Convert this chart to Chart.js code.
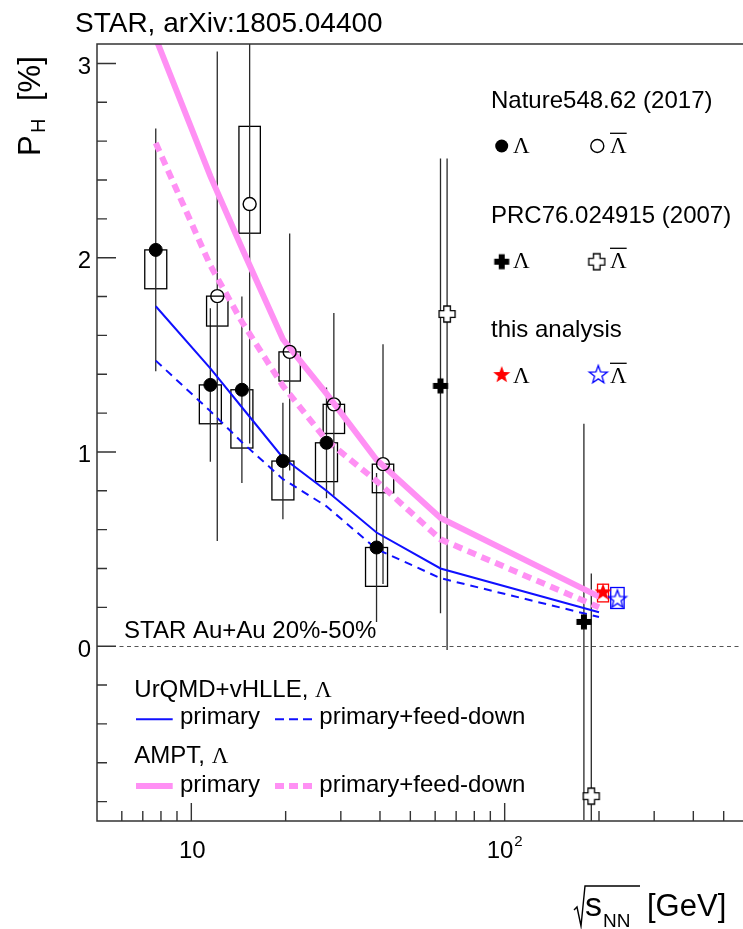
<!DOCTYPE html>
<html><head><meta charset="utf-8">
<script src="https://cdn.jsdelivr.net/npm/chart.js@4.4.0/dist/chart.umd.min.js"></script>
<style>html,body{margin:0;padding:0;background:#fff;}#wrap{width:743px;height:929px;}</style>
</head><body><div id="wrap"><canvas id="c" width="743" height="929"></canvas></div>
<script>
// ---------- data ----------
const modelEnergies = [7.7, 11.5, 14.5, 19.6, 27, 39, 62.4, 200];
const urqmdPrimary  = [1.75, 1.43, 1.23, 0.97, 0.80, 0.585, 0.40, 0.175];
const urqmdFeed     = [1.47, 1.21, 1.05, 0.86, 0.72, 0.50, 0.35, 0.15];
const amptPrimary   = [3.13, 2.42, 2.05, 1.58, 1.30, 0.96, 0.66, 0.255];
const amptFeed      = [2.59, 1.96, 1.67, 1.34, 1.06, 0.85, 0.55, 0.20];

const natLamE     = [7.7, 11.5, 14.5, 19.6, 27, 39];
const natLamP     = [2.04, 1.345, 1.32, 0.953, 1.047, 0.508];
const natLamStat  = [0.625, 0.395, 0.48, 0.30, 0.285, 0.383];
const natLamSysUp = [0, 0, 0, 0, 0, 0];
const natLamSysDn = [0.20, 0.20, 0.30, 0.20, 0.20, 0.20];

const natALamE     = [12.1, 15.35, 20.6, 28.5, 40.9];
const natALamP     = [1.802, 2.276, 1.515, 1.245, 0.937];
const natALamStat  = [1.26, 1.232, 0.61, 0.47, 0.617];
const natALamSysUp = [0, 0.40, 0, 0, 0];
const natALamSysDn = [0.154, 0.15, 0.15, 0.15, 0.147];

const prcLamE    = [62.4, 179];
const prcLamP    = [1.34, 0.125];
const prcLamStat = [1.17, 1.02];
const prcALamE      = [65.5, 189];
const prcALamP      = [1.71, -0.772];
const prcALamStatUp = [0.80, 1.146];
const prcALamStatDn = [1.73, 1.146];

const starLamE = [206];   const starLamP = [0.277];  const starLamStat = [0.040];  const starLamSysUp = [0.042];  const starLamSysDn = [0.049];
const starALamE = [229];  const starALamP = [0.240]; const starALamStat = [0.045]; const starALamSysUp = [0.062]; const starALamSysDn = [0.046];

const xMajorTicks = [10, 100];
const xMajorLabels = ['10', '10|2'];
const xMinorTicks = [6, 7, 8, 9, 20, 30, 40, 50, 60, 70, 80, 90, 200, 300, 400, 500];
const yMajorTicks = [0, 1, 2, 3];
const yMajorLabels = ['0', '1', '2', '3'];
const yMinorTicks = [-0.8, -0.6, -0.4, -0.2, 0.2, 0.4, 0.6, 0.8, 1.2, 1.4, 1.6, 1.8, 2.2, 2.4, 2.6, 2.8];

// ---------- styles ----------
const BLUE = '#1010ff', PINK = '#ff90f4', AX = '#333333';
const SANS = '"Liberation Sans", Arial, Helvetica, sans-serif';
const SERIF = '"Liberation Serif", "Times New Roman", serif';

function mk(size, fn){ const c=document.createElement('canvas'); c.width=size; c.height=size; const g=c.getContext('2d'); fn(g, size/2); return c; }
function plusPath(g, c, a, t){
  g.beginPath();
  const p=[[-t,-a],[t,-a],[t,-t],[a,-t],[a,t],[t,t],[t,a],[-t,a],[-t,t],[-a,t],[-a,-t],[-t,-t]];
  p.forEach((q,i)=> i? g.lineTo(c+q[0],c+q[1]) : g.moveTo(c+q[0],c+q[1]));
  g.closePath();
}
function starPath(g, c, R, r){
  g.beginPath();
  for(let k=0;k<10;k++){ const ang=-Math.PI/2+k*Math.PI/5; const rad=k%2?r:R;
    const X=c+rad*Math.cos(ang), Y=c+rad*Math.sin(ang); k? g.lineTo(X,Y):g.moveTo(X,Y); }
  g.closePath();
}
const imgFilledCross = mk(20,(g,c)=>{ plusPath(g,c,7.5,3); g.fillStyle='#000'; g.fill(); });
const imgOpenCross = mk(22,(g,c)=>{ plusPath(g,c,8,3.3); g.fillStyle='#fff'; g.fill(); g.strokeStyle='#000'; g.lineWidth=1.3; g.stroke(); });
const imgRedStar = mk(22,(g,c)=>{ starPath(g,c,9,3.7); g.fillStyle='#ff0000'; g.fill(); });
const imgBlueStar = mk(24,(g,c)=>{ starPath(g,c,9.5,3.9); g.strokeStyle='#0000ff'; g.lineWidth=1.3; g.stroke(); });

const pts = (E,P)=>E.map((e,i)=>({x:e,y:P[i]}));

function modelDs(label, vals, color, width, dash){
  return {type:'line', label, data: pts(modelEnergies, vals), borderColor: color, borderWidth: width,
    borderDash: dash, pointRadius: 0, tension: 0, fill: false, clip: 0, order: 10, borderCapStyle:'butt'};
}

const datasets = [
  modelDs('AMPT primary', amptPrimary, PINK, 6, []),
  modelDs('AMPT primary+feed-down', amptFeed, PINK, 6, [9,6]),
  modelDs('UrQMD primary', urqmdPrimary, BLUE, 2, []),
  modelDs('UrQMD primary+feed-down', urqmdFeed, BLUE, 2, [8,6]),
  {type:'scatter', label:'Nature Lambda', data: pts(natLamE, natLamP), pointStyle:'circle', pointRadius:6.5,
    backgroundColor:'#000', borderColor:'#000', borderWidth:1, order:0, clip:0,
    statUp: natLamStat, statDn: natLamStat, sysUp: natLamSysUp, sysDn: natLamSysDn, boxHalf: 11, boxColor:'#000', gap: 6},
  {type:'scatter', label:'Nature AntiLambda', data: pts(natALamE, natALamP), pointStyle:'circle', pointRadius:6.5,
    backgroundColor:'rgba(0,0,0,0)', borderColor:'#000', borderWidth:1.4, order:0, clip:0,
    statUp: natALamStat, statDn: natALamStat, sysUp: natALamSysUp, sysDn: natALamSysDn, boxHalf: 10.7, boxColor:'#000', gap: 7},
  {type:'scatter', label:'PRC Lambda', data: pts(prcLamE, prcLamP), pointStyle: imgFilledCross, pointRadius:8,
    order:0, clip:0, statUp: prcLamStat, statDn: prcLamStat, gap: 7},
  {type:'scatter', label:'PRC AntiLambda', data: pts(prcALamE, prcALamP), pointStyle: imgOpenCross, pointRadius:8,
    order:0, clip:0, statUp: prcALamStatUp, statDn: prcALamStatDn, gap: 8},
  {type:'scatter', label:'this analysis Lambda', data: pts(starLamE, starLamP), pointStyle: imgRedStar, pointRadius:9,
    order:0, clip:0, statUp: starLamStat, statDn: starLamStat, sysUp: starLamSysUp, sysDn: starLamSysDn, boxHalf: 5.5, boxColor:'#ff0000', gap: 9},
  {type:'scatter', label:'this analysis AntiLambda', data: pts(starALamE, starALamP), pointStyle: imgBlueStar, pointRadius:9,
    order:0, clip:0, statUp: starALamStat, statDn: starALamStat, sysUp: starALamSysUp, sysDn: starALamSysDn, boxHalf: 6.7, boxColor:'#0000ff', gap: 9}
];

function lambdaBar(ctx, x, base, size){
  ctx.font = size+'px '+SERIF; ctx.textAlign='left'; ctx.textBaseline='alphabetic';
  ctx.fillText('\u039B', x, base);
  const w = ctx.measureText('\u039B').width;
  ctx.beginPath(); ctx.lineWidth=1.3; ctx.moveTo(x, base-20); ctx.lineTo(x+w, base-20); ctx.stroke();
}

const decor = {
  id: 'decor',
  beforeDatasetsDraw(chart){
    const {ctx, chartArea:a, scales:{x, y}} = chart;
    ctx.save();
    ctx.beginPath(); ctx.rect(a.left, a.top, a.right-a.left, a.bottom-a.top); ctx.clip();
    const y0 = Math.round(y.getPixelForValue(0)) + 0.5;
    ctx.strokeStyle = '#555'; ctx.lineWidth = 1.2; ctx.setLineDash([4,3.5]);
    ctx.beginPath(); ctx.moveTo(a.left, y0); ctx.lineTo(a.right, y0); ctx.stroke();
    ctx.setLineDash([]);
    chart.data.datasets.forEach(ds=>{
      if(!ds.statUp) return;
      ds.data.forEach((p,i)=>{
        const px = x.getPixelForValue(p.x), py = y.getPixelForValue(p.y);
        if(ds.sysUp){
          const t = y.getPixelForValue(p.y + ds.sysUp[i]), b = y.getPixelForValue(p.y - ds.sysDn[i]);
          ctx.strokeStyle = ds.boxColor; ctx.lineWidth = 1.3;
          ctx.strokeRect(px-ds.boxHalf, t, 2*ds.boxHalf, b-t);
        }
        const t = y.getPixelForValue(p.y + ds.statUp[i]), b = y.getPixelForValue(p.y - ds.statDn[i]);
        ctx.strokeStyle = '#2a2a2a'; ctx.lineWidth = 1.3;
        ctx.beginPath();
        if(t < py-ds.gap){ ctx.moveTo(px,t); ctx.lineTo(px,py-ds.gap); }
        if(b > py+ds.gap){ ctx.moveTo(px,py+ds.gap); ctx.lineTo(px,b); }
        ctx.stroke();
      });
    });
    ctx.restore();
  },
  afterDraw(chart){
    const {ctx, chartArea:a, scales:{x, y}} = chart;
    ctx.save();
    ctx.strokeStyle = AX; ctx.lineWidth = 1.5;
    ctx.beginPath();
    ctx.moveTo(a.right+2, a.top); ctx.lineTo(a.left, a.top); ctx.lineTo(a.left, a.bottom); ctx.lineTo(a.right+2, a.bottom);
    ctx.stroke();
    ctx.lineWidth = 1.4;
    ctx.beginPath();
    xMajorTicks.forEach(v=>{ const px=x.getPixelForValue(v); ctx.moveTo(px,a.bottom); ctx.lineTo(px,a.bottom-18); });
    xMinorTicks.forEach(v=>{ const px=x.getPixelForValue(v); ctx.moveTo(px,a.bottom); ctx.lineTo(px,a.bottom-10); });
    yMajorTicks.forEach(v=>{ const py=y.getPixelForValue(v); ctx.moveTo(a.left,py); ctx.lineTo(a.left+19,py); });
    yMinorTicks.forEach(v=>{ const py=y.getPixelForValue(v); ctx.moveTo(a.left,py); ctx.lineTo(a.left+10,py); });
    ctx.stroke();
    ctx.fillStyle = '#000';
    ctx.font = '24px '+SANS; ctx.textAlign='right'; ctx.textBaseline='alphabetic';
    yMajorTicks.forEach((v,i)=>{ ctx.fillText(yMajorLabels[i], 91, y.getPixelForValue(v)+10.5); });
    xMajorTicks.forEach((v,i)=>{
      const px = x.getPixelForValue(v); const parts = xMajorLabels[i].split('|');
      ctx.font='24px '+SANS; const w1 = ctx.measureText(parts[0]).width;
      let w2 = 0; if(parts[1]){ ctx.font='15px '+SANS; w2 = ctx.measureText(parts[1]).width + 1; }
      const sx = px - (w1+w2)/2 + (parts[1]?0:1);
      ctx.textAlign='left'; ctx.font='24px '+SANS; ctx.fillText(parts[0], sx, 858);
      if(parts[1]){ ctx.font='15px '+SANS; ctx.fillText(parts[1], sx+w1+1, 846); }
    });
    ctx.textAlign='left'; ctx.font='28px '+SANS;
    ctx.fillText('STAR, arXiv:1805.04400', 75, 31.5);
    ctx.save(); ctx.translate(40, 156); ctx.rotate(-Math.PI/2);
    ctx.font='31px '+SANS; ctx.fillText('P', 0, 0);
    ctx.font='20px '+SANS; ctx.fillText('H', 23, 5);
    ctx.font='31px '+SANS; ctx.fillText('[%]', 55, 0);
    ctx.restore();
    ctx.strokeStyle='#000'; ctx.lineWidth=1.4;
    ctx.beginPath(); ctx.moveTo(574,910); ctx.lineTo(577,907); ctx.lineTo(581,926); ctx.lineTo(585,886); ctx.lineTo(640,886); ctx.stroke();
    ctx.font='34px '+SANS; ctx.fillText('s', 585, 916);
    ctx.font='19px '+SANS; ctx.fillText('NN', 603, 927);
    ctx.font='31px '+SANS; ctx.fillText('[GeV]', 647, 916);
    ctx.font='24px '+SANS; ctx.fillStyle='#000'; ctx.strokeStyle='#000';
    ctx.fillText('Nature548.62 (2017)', 491, 108.3);
    ctx.fillText('PRC76.024915 (2007)', 491, 223.3);
    ctx.fillText('this analysis', 491, 336.7);
    ctx.beginPath(); ctx.arc(501.7,146,6.5,0,2*Math.PI); ctx.fillStyle='#000'; ctx.fill();
    ctx.beginPath(); ctx.arc(597.3,146,6.5,0,2*Math.PI); ctx.lineWidth=1.4; ctx.stroke();
    ctx.drawImage(imgFilledCross, 501.7-10, 261.7-10);
    ctx.drawImage(imgOpenCross, 596.7-11, 261.7-11);
    ctx.drawImage(imgRedStar, 501.7-11, 375-11);
    ctx.drawImage(imgBlueStar, 598.3-12, 375-12);
    ctx.fillStyle='#000';
    ctx.font='23px '+SERIF;
    ctx.fillText('\u039B', 513, 153.3); lambdaBar(ctx, 610, 153.3, 23);
    ctx.font='23px '+SERIF;
    ctx.fillText('\u039B', 513, 268.3); lambdaBar(ctx, 610, 268.3, 23);
    ctx.font='23px '+SERIF;
    ctx.fillText('\u039B', 513, 383.3); lambdaBar(ctx, 610, 383.3, 23);
    ctx.font='24px '+SANS;
    ctx.fillText('STAR Au+Au 20%-50%', 124, 638.3);
    ctx.fillText('UrQMD+vHLLE, ', 134.3, 696.7);
    let w = ctx.measureText('UrQMD+vHLLE, ').width;
    ctx.font='23px '+SERIF; ctx.fillText('\u039B', 134.3+w, 696.7);
    ctx.font='24px '+SANS;
    ctx.fillText('AMPT, ', 134.3, 763.3);
    w = ctx.measureText('AMPT, ').width;
    ctx.font='23px '+SERIF; ctx.fillText('\u039B', 134.3+w, 763.3);
    ctx.font='24px '+SANS;
    ctx.fillText('primary', 180, 724.3);
    ctx.fillText('primary+feed-down', 319.3, 724.3);
    ctx.fillText('primary', 180, 791.7);
    ctx.fillText('primary+feed-down', 319.3, 791.7);
    ctx.lineCap='butt';
    ctx.strokeStyle=BLUE; ctx.lineWidth=2;
    ctx.beginPath(); ctx.moveTo(136,719.3); ctx.lineTo(172.7,719.3); ctx.stroke();
    ctx.setLineDash([9,5]); ctx.beginPath(); ctx.moveTo(275,719.3); ctx.lineTo(312,719.3); ctx.stroke();
    ctx.setLineDash([]);
    ctx.strokeStyle=PINK; ctx.lineWidth=6;
    ctx.beginPath(); ctx.moveTo(136,786); ctx.lineTo(172.7,786); ctx.stroke();
    ctx.setLineDash([9,5]); ctx.beginPath(); ctx.moveTo(275,786); ctx.lineTo(312,786); ctx.stroke();
    ctx.setLineDash([]);
    ctx.restore();
  }
};

new Chart(document.getElementById('c'), {
  type: 'scatter',
  data: { datasets },
  options: {
    responsive: false, animation: false, devicePixelRatio: 1,
    layout: { autoPadding: false, padding: { left: 97, top: 44, right: 1, bottom: 108 } },
    plugins: { legend: { display: false }, tooltip: { enabled: false } },
    scales: {
      x: { type: 'logarithmic', min: 5, max: 572, display: false },
      y: { type: 'linear', min: -0.9, max: 3.1, display: false }
    }
  },
  plugins: [decor]
});
</script></body></html>
